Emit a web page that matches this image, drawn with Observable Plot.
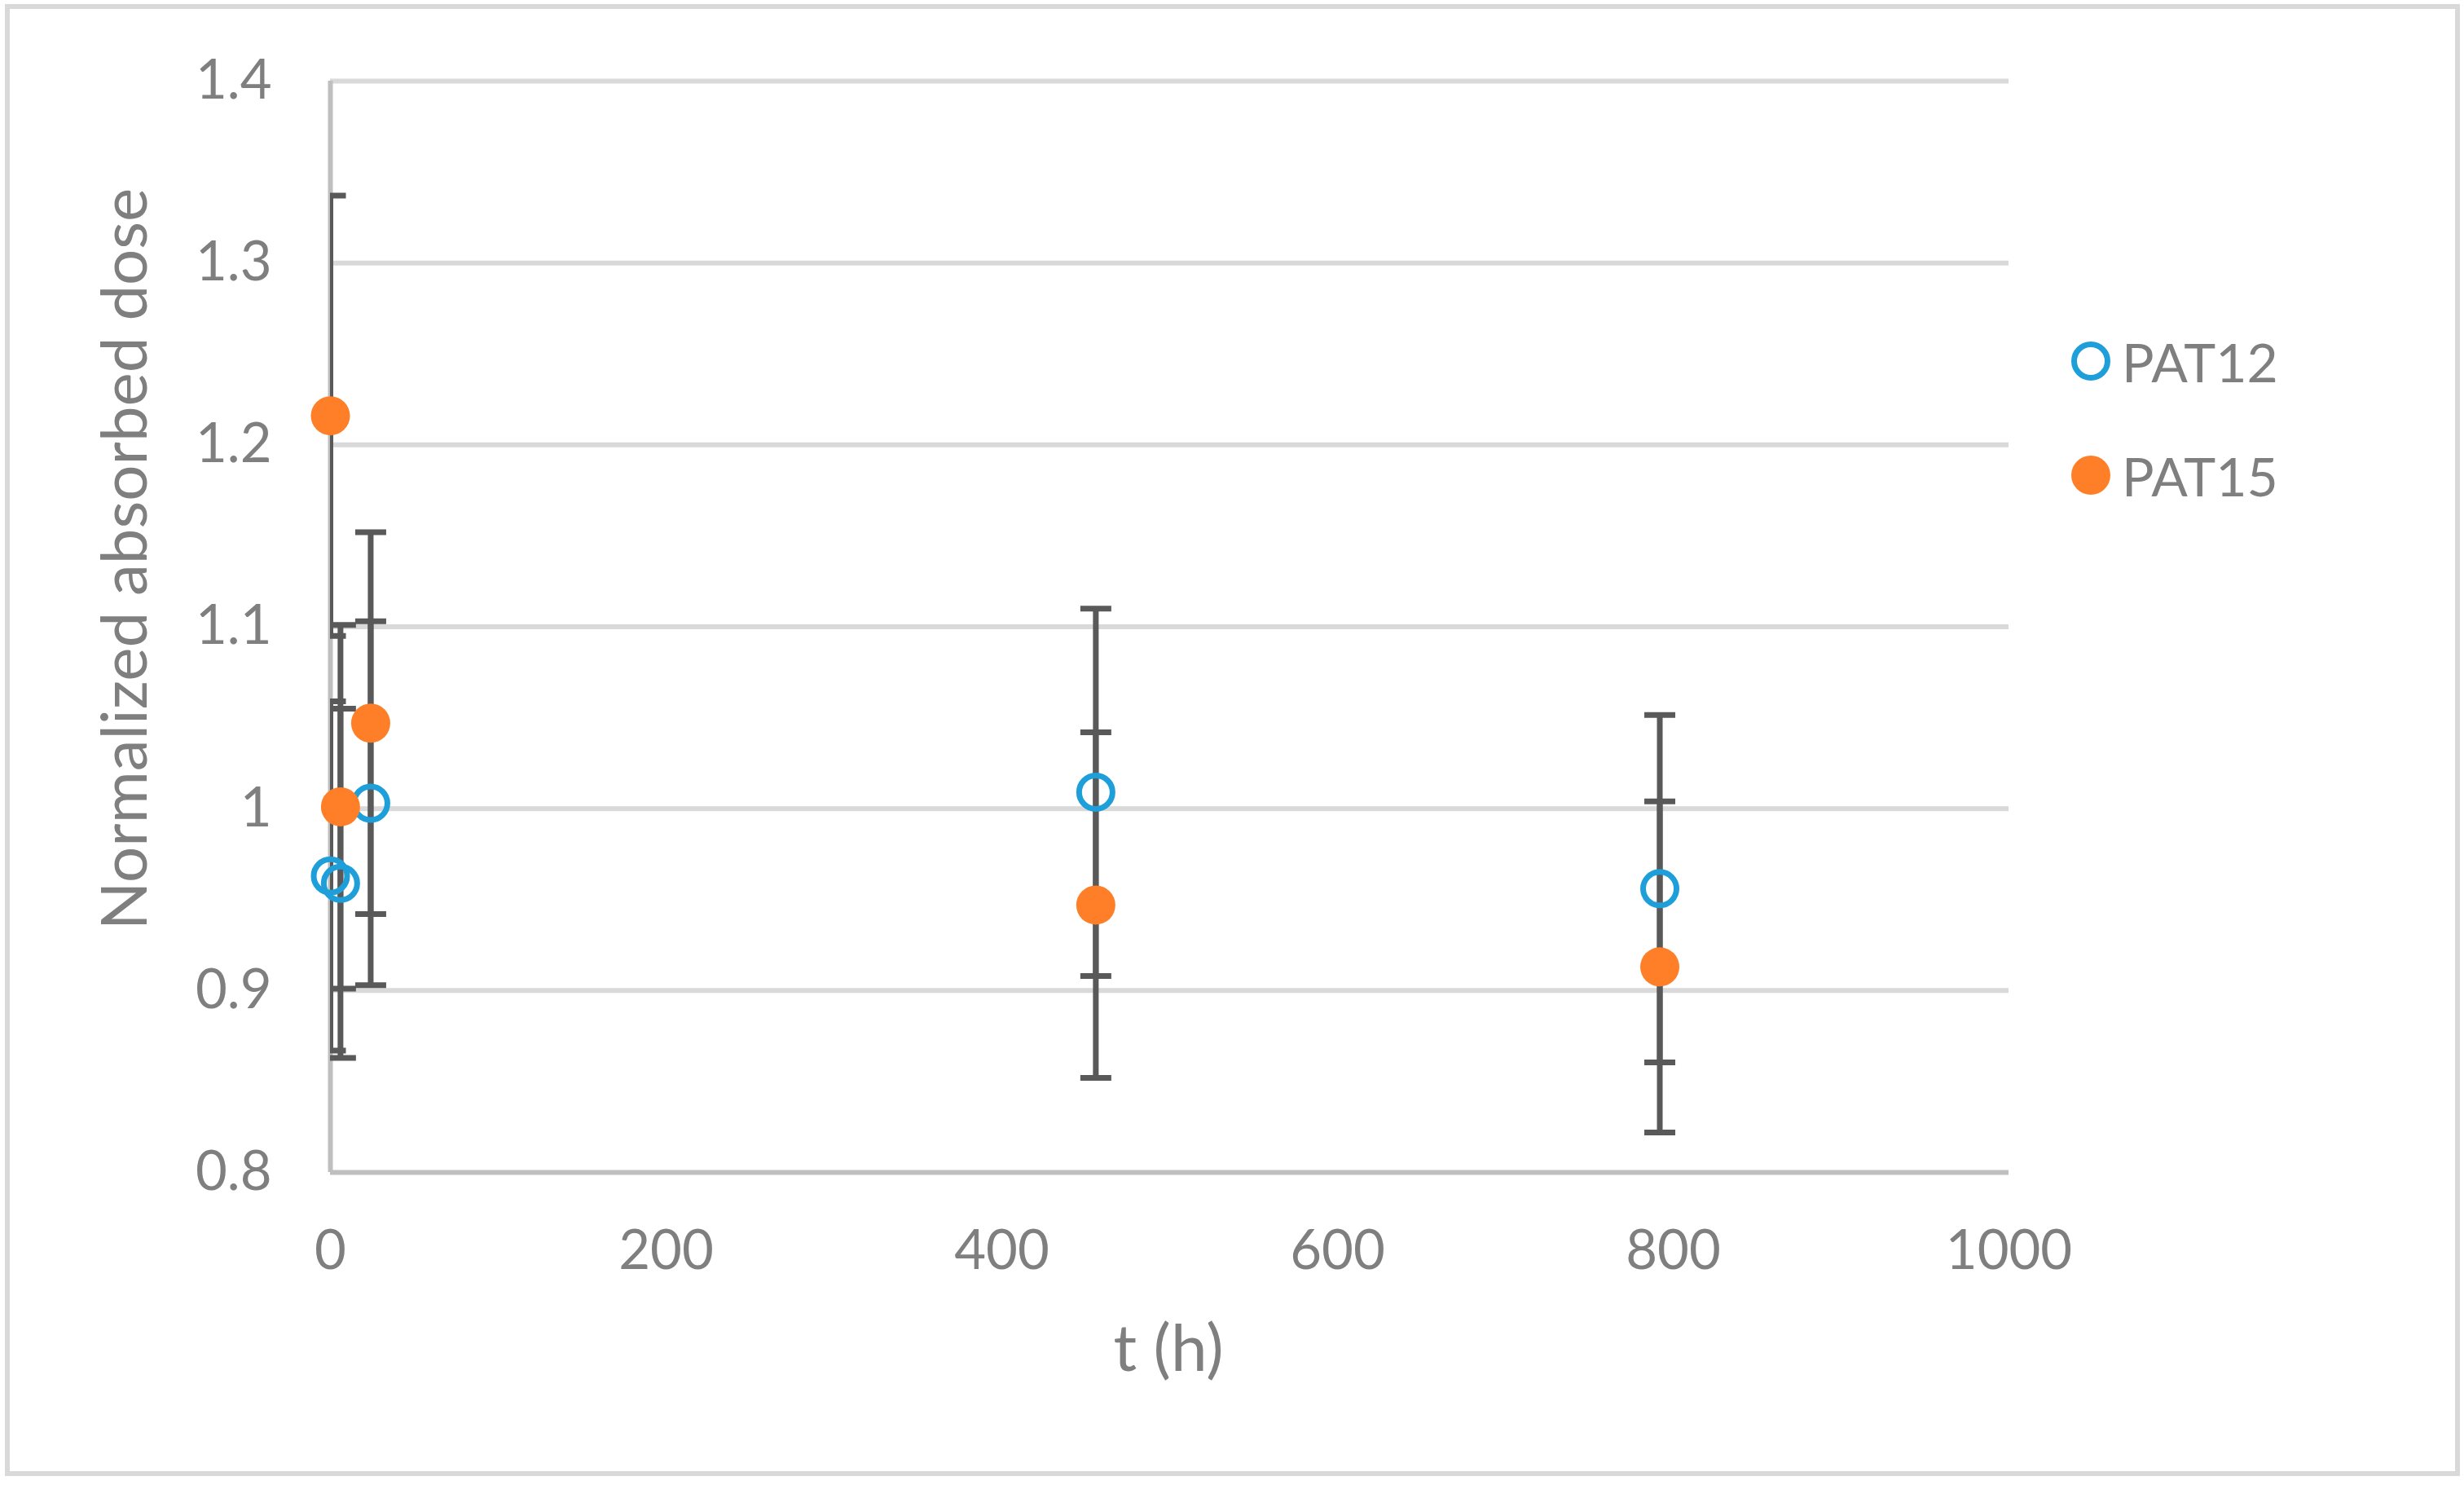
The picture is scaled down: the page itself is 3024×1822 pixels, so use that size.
<!DOCTYPE html>
<html><head><meta charset="utf-8">
<script src="https://cdn.jsdelivr.net/npm/d3@7"></script>
<script src="https://cdn.jsdelivr.net/npm/@observablehq/plot@0.6"></script>
<style>
html,body{margin:0;padding:0;background:#fff;}
#wrap{position:relative;width:3024px;height:1822px;overflow:hidden;}
.leg{position:absolute;left:2542px;height:80px;display:flex;align-items:center;font-family:Lato,sans-serif;font-size:66px;color:#7f7f7f;}
.leg svg{margin-right:14px;flex:none;}
</style></head><body><div id="wrap"></div>
<script>
// ---- data ----
const hours = [0, 6, 24, 456, 792];
const pat12 = [0.963, 0.959, 1.003, 1.009, 0.956];
const pat12Err = [0.096, 0.096, 0.100, 0.101, 0.0955];
const pat15 = [1.216, 1.001, 1.047, 0.947, 0.913];
const pat15Err = [0.121, 0.100, 0.105, 0.095, 0.091];
const seriesNames = ["PAT12", "PAT15"];
const seriesColors = ["#1e9fda", "#fe7f27"];
const xTicks = [0, 200, 400, 600, 800, 1000];
const yTicks = [0.8, 0.9, 1, 1.1, 1.2, 1.3, 1.4];
const xTitle = "t (h)";
const yTitle = "Normalized absorbed dose";

const rows = hours.flatMap((t, i) => [
  {t, series: seriesNames[0], v: pat12[i], e: pat12Err[i]},
  {t, series: seriesNames[1], v: pat15[i], e: pat15Err[i]}
]);

const capSymbol = {
  draw(ctx, size) {
    const w = Math.sqrt(size / Math.PI);
    ctx.moveTo(-w, 0);
    ctx.lineTo(w, 0);
  }
};

const W = 3024, H = 1822;
const barColor = "#595959";

const chart = Plot.plot({
  width: W,
  height: H,
  marginLeft: 405,
  marginRight: 559,
  marginTop: 99,
  marginBottom: 384,
  style: {fontFamily: "Lato, sans-serif", fontSize: "67px", color: "#7f7f7f", background: "#fff"},
  x: {domain: [0, 1000], label: null},
  y: {domain: [0.8, 1.4], label: null},
  marks: [
    Plot.gridY(yTicks.filter(d => d !== 0.8), {stroke: "#d9d9d9", strokeWidth: 6, strokeOpacity: 1}),
    Plot.ruleX([0], {stroke: "#bfbfbf", strokeWidth: 6}),
    Plot.ruleY([0.8], {stroke: "#bfbfbf", strokeWidth: 6}),
    Plot.axisY(yTicks, {tickSize: 0, tickPadding: 72, tickFormat: d => String(d), label: null}),
    Plot.axisX(xTicks, {tickSize: 0, tickPadding: 71, tickFormat: d => String(d), label: null}),
    Plot.ruleX(rows, {x: "t", y1: d => d.v - d.e, y2: d => d.v + d.e, stroke: barColor, strokeWidth: 7, clip: true}),
    Plot.dot(rows, {x: "t", y: d => d.v + d.e, symbol: capSymbol, r: 19, stroke: barColor, strokeWidth: 7, fill: "none", clip: true}),
    Plot.dot(rows, {x: "t", y: d => d.v - d.e, symbol: capSymbol, r: 19, stroke: barColor, strokeWidth: 7, fill: "none", clip: true}),
    Plot.dot(rows.filter(d => d.series === seriesNames[0]), {x: "t", y: "v", r: 20.5, stroke: seriesColors[0], strokeWidth: 7, fill: "none"}),
    Plot.dot(rows.filter(d => d.series === seriesNames[1]), {x: "t", y: "v", r: 24, fill: seriesColors[1], stroke: "none"})
  ]
});

const svg = d3.select(chart);
// outer chart border
svg.insert("rect", ":first-child")
  .attr("x", 9).attr("y", 8).attr("width", 3007).attr("height", 1800)
  .attr("fill", "none").attr("stroke", "#d9d9d9").attr("stroke-width", 6);
// axis titles
svg.append("text")
  .attr("x", 1434).attr("y", 1682)
  .attr("text-anchor", "middle").attr("font-size", 80).attr("fill", "#7f7f7f")
  .text(xTitle);
svg.append("text")
  .attr("transform", "translate(180,686) rotate(-90)")
  .attr("text-anchor", "middle").attr("font-size", 78).attr("fill", "#7f7f7f")
  .text(yTitle);

const wrap = document.getElementById("wrap");
wrap.appendChild(chart);

// legend
const legendY = [443, 583];
seriesNames.forEach((name, i) => {
  const div = document.createElement("div");
  div.className = "leg";
  div.style.top = (legendY[i] - 40) + "px";
  const filled = i === 1;
  div.innerHTML = `<svg width="48" height="48" viewBox="0 0 48 48">${
    filled ? `<circle cx="24" cy="24" r="24" fill="${seriesColors[i]}"/>`
           : `<circle cx="24" cy="24" r="20.5" fill="none" stroke="${seriesColors[i]}" stroke-width="7"/>`
  }</svg><span>${name}</span>`;
  wrap.appendChild(div);
});
</script></body></html>
